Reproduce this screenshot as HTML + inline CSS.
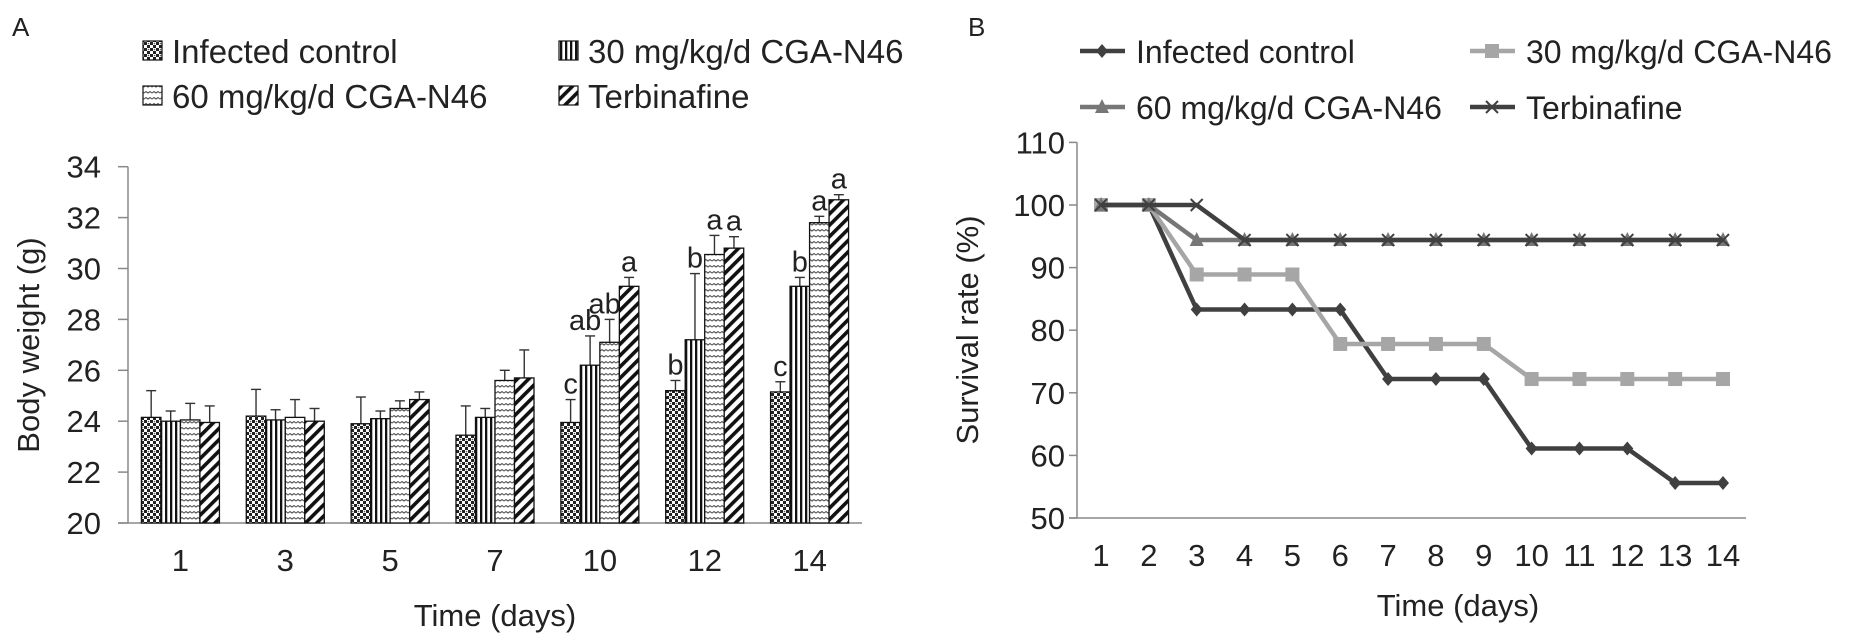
<!DOCTYPE html>
<html><head><meta charset="utf-8"><style>
body{margin:0;background:#fff;}
svg{display:block;font-family:"Liberation Sans",Arial,sans-serif;}
</style></head><body>
<svg id="fig" width="1855" height="643" viewBox="0 0 1855 643">
<defs>
<pattern id="pCheck" width="6" height="6" patternUnits="userSpaceOnUse"><rect width="6" height="6" fill="#fff"/><rect width="3" height="3" fill="#222"/><rect x="3" y="3" width="3" height="3" fill="#222"/><circle cx="4.5" cy="1.5" r="0.8" fill="#555"/></pattern>
<pattern id="pVert" width="5" height="6" patternUnits="userSpaceOnUse"><rect width="5" height="6" fill="#fff"/><rect width="2.3" height="6" fill="#111"/></pattern>
<pattern id="pWave" width="8" height="6" patternUnits="userSpaceOnUse"><rect width="8" height="6" fill="#fff"/><path d="M0 3 L2 1.5 L4 3 L6 1.5 L8 3" stroke="#555" stroke-width="1.1" fill="none"/></pattern>
<pattern id="pDiag" width="8" height="8" patternUnits="userSpaceOnUse" patternTransform="rotate(45)"><rect width="8" height="8" fill="#fff"/><rect width="3.6" height="8" fill="#111"/></pattern>
</defs>
<g id="panelA"></g>
<g id="panelB"></g>
</svg>
<script>
const NS='http://www.w3.org/2000/svg';
function mk(p,t,a,txt){const e=document.createElementNS(NS,t);for(const k in a)e.setAttribute(k,a[k]);if(txt!==undefined)e.textContent=txt;p.appendChild(e);return e;}

// ---- Panel A data ----
const barDays=['1','3','5','7','10','12','14'];
const barSeries=['Infected control','30 mg/kg/d CGA-N46','60 mg/kg/d CGA-N46','Terbinafine'];
const infectedW=[24.15,24.2,23.9,23.45,23.95,25.2,25.15];
const cga30W=[24.0,24.05,24.1,24.15,26.2,27.2,29.3];
const cga60W=[24.05,24.15,24.5,25.6,27.1,30.55,31.8];
const terbW=[23.95,24.0,24.85,25.7,29.3,30.8,32.7];
const infectedErr=[1.05,1.05,1.05,1.15,0.9,0.4,0.4];
const cga30Err=[0.4,0.4,0.3,0.35,1.15,2.6,0.35];
const cga60Err=[0.65,0.7,0.3,0.4,0.9,0.75,0.25];
const terbErr=[0.65,0.5,0.3,1.1,0.35,0.45,0.2];
const letters=[['','','',''],['','','',''],['','','',''],['','','',''],['c','ab','ab','a'],['b','b','a','a'],['c','b','a','a']];
const yTicksA=[20,22,24,26,28,30,32,34];

// ---- Panel B data ----
const survDays=[1,2,3,4,5,6,7,8,9,10,11,12,13,14];
const survInfected=[100,100,83.3,83.3,83.3,83.3,72.2,72.2,72.2,61.1,61.1,61.1,55.6,55.6];
const surv30=[100,100,88.9,88.9,88.9,77.8,77.8,77.8,77.8,72.2,72.2,72.2,72.2,72.2];
const surv60=[100,100,94.4,94.4,94.4,94.4,94.4,94.4,94.4,94.4,94.4,94.4,94.4,94.4];
const survTerb=[100,100,100,94.4,94.4,94.4,94.4,94.4,94.4,94.4,94.4,94.4,94.4,94.4];
const yTicksB=[50,60,70,80,90,100,110];

// ---------- Panel A ----------
(function(){
const g=document.getElementById('panelA');
const x0=128,x1=862,yTop=166.7,yBot=523;
const ys=v=>yBot-(v-20)/(34-20)*(yBot-yTop);
const gw=(x1-x0)/barDays.length, bw=19.5;
const fills=['url(#pCheck)','url(#pVert)','url(#pWave)','url(#pDiag)'];
const vals=[infectedW,cga30W,cga60W,terbW], errs=[infectedErr,cga30Err,cga60Err,terbErr];
mk(g,'text',{x:12,y:36,'font-size':26,fill:'#222',},'A');
mk(g,'line',{x1:x0,y1:yTop,x2:x0,y2:yBot,stroke:'#888','stroke-width':1.5,});
mk(g,'line',{x1:x0-10,y1:yBot,x2:x1,y2:yBot,stroke:'#888','stroke-width':1.5,});
yTicksA.forEach(t=>{
 mk(g,'line',{x1:x0-10,y1:ys(t),x2:x0,y2:ys(t),stroke:'#888','stroke-width':1.5,});
 mk(g,'text',{x:x0-27,y:ys(t)+11,'font-size':31,'text-anchor':'end',fill:'#222',},t);
});
mk(g,'text',{x:0,y:0,'font-size':31,'text-anchor':'middle',fill:'#222',transform:'translate(39,345) rotate(-90)',},'Body weight (g)');
mk(g,'text',{x:(x0+x1)/2,y:626,'font-size':31,'text-anchor':'middle',fill:'#222',},'Time (days)');
barDays.forEach((d,i)=>{
 const cx=x0+gw*(i+0.5);
 mk(g,'text',{x:cx,y:571,'font-size':31,'text-anchor':'middle',fill:'#222',},d);
 for(let s=0;s<4;s++){
  const bx=cx-2*bw+s*bw, v=vals[s][i], e=errs[s][i];
  const ex=bx+bw/2;
  mk(g,'line',{x1:ex,y1:ys(v),x2:ex,y2:ys(v+e),stroke:'#333','stroke-width':1.4,});
  mk(g,'line',{x1:ex-5,y1:ys(v+e),x2:ex+5,y2:ys(v+e),stroke:'#333','stroke-width':1.4,});
  mk(g,'rect',{x:bx,y:ys(v),width:bw,height:yBot-ys(v),fill:fills[s],stroke:'#111','stroke-width':1.3,});
  const L=letters[i][s];
  if(L) mk(g,'text',{x:ex-(L.length>1?5:0),y:ys(v+e)-6,'font-size':29,'text-anchor':'middle',fill:'#222',},L);
 }
});
const leg=[[143,51],[559,51],[143,96],[559,96]];
barSeries.forEach((n,s)=>{
 const lg=mk(g,'g',{});
 mk(lg,'rect',{x:leg[s][0],y:leg[s][1]-10,width:19,height:19,fill:fills[s],stroke:'#111','stroke-width':1.2,});
 mk(lg,'text',{x:leg[s][0]+29,y:leg[s][1]+12,'font-size':33,fill:'#222',},n);
});
})();

// ---------- Panel B ----------
(function(){
const g=document.getElementById('panelB');
const x0=1077,x1=1746,yTop=142.4,yBot=518;
const ys=v=>yBot-(v-50)/(110-50)*(yBot-yTop);
const xs=d=>1101+(d-1)*(1723-1101)/13;
mk(g,'text',{x:968,y:36,'font-size':26,fill:'#222',},'B');
mk(g,'line',{x1:x0,y1:yTop,x2:x0,y2:yBot,stroke:'#888','stroke-width':1.5,});
mk(g,'line',{x1:x0-8,y1:yBot,x2:x1,y2:yBot,stroke:'#888','stroke-width':1.5,});
yTicksB.forEach(t=>{
 mk(g,'line',{x1:x0-8,y1:ys(t),x2:x0,y2:ys(t),stroke:'#888','stroke-width':1.5,});
 mk(g,'text',{x:x0-12,y:ys(t)+11,'font-size':31,'text-anchor':'end',fill:'#222',},t);
});
survDays.forEach(d=>{
 mk(g,'text',{x:xs(d),y:566,'font-size':31,'text-anchor':'middle',fill:'#222',},d);
});
mk(g,'text',{x:0,y:0,'font-size':31,'text-anchor':'middle',fill:'#222',transform:'translate(978,330) rotate(-90)',},'Survival rate (%)');
mk(g,'text',{x:1458,y:616,'font-size':31,'text-anchor':'middle',fill:'#222',},'Time (days)');
function marker(p,type,x,y,c){
 if(type==='diamond') mk(p,'path',{d:`M${x} ${y-7}L${x+6} ${y}L${x} ${y+7}L${x-6} ${y}Z`,fill:c,});
 else if(type==='square') mk(p,'rect',{x:x-7,y:y-7,width:14,height:14,fill:c,});
 else if(type==='tri') mk(p,'path',{d:`M${x} ${y-8}L${x+7} ${y+6}L${x-7} ${y+6}Z`,fill:c,});
 else mk(p,'path',{d:`M${x-6} ${y-6}L${x+6} ${y+6}M${x+6} ${y-6}L${x-6} ${y+6}`,stroke:c,'stroke-width':2,});
}
const series=[
 {n:'Infected control',v:survInfected,c:'#404040',m:'diamond',lx:1080,ly:51},
 {n:'30 mg/kg/d CGA-N46',v:surv30,c:'#a6a6a6',m:'square',lx:1470,ly:51},
 {n:'60 mg/kg/d CGA-N46',v:surv60,c:'#777777',m:'tri',lx:1080,ly:107},
 {n:'Terbinafine',v:survTerb,c:'#404040',m:'x',lx:1470,ly:107}];
series.forEach(s=>{
 const sg=mk(g,'g',{});
 mk(sg,'polyline',{points:survDays.map((d,i)=>xs(d)+','+ys(s.v[i])).join(' '),fill:'none',stroke:s.c,'stroke-width':4.5,});
 survDays.forEach((d,i)=>marker(sg,s.m,xs(d),ys(s.v[i]),s.c));
 const lg=mk(g,'g',{});
 mk(lg,'line',{x1:s.lx,y1:s.ly,x2:s.lx+45,y2:s.ly,stroke:s.c,'stroke-width':4.5,});
 marker(lg,s.m,s.lx+22,s.ly,s.c);
 mk(lg,'text',{x:s.lx+56,y:s.ly+12,'font-size':32,fill:'#222',},s.n);
});
})();
</script>
</body></html>
